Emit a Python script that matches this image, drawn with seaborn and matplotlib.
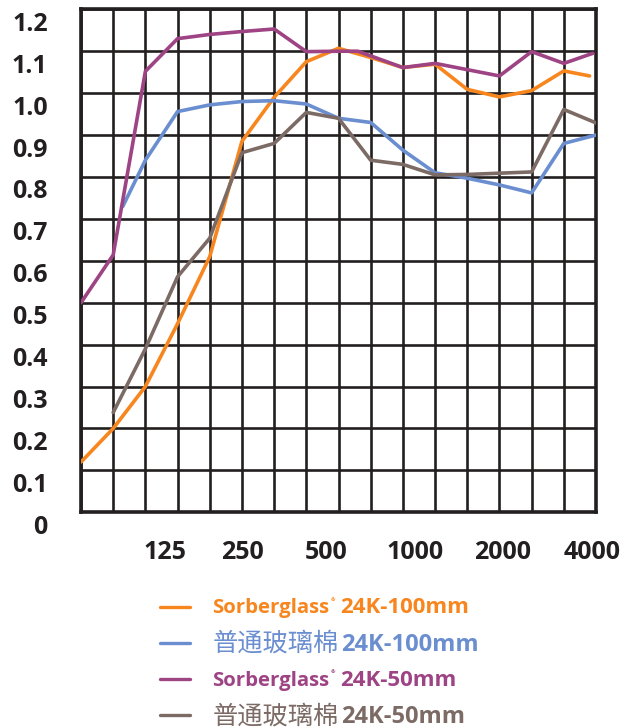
import pandas as pd
import numpy as np
import matplotlib.pyplot as plt
import seaborn as sns
from matplotlib.lines import Line2D
from matplotlib.transforms import ScaledTranslation

# 1/3-octave band index (grid columns) and sound absorption coefficients
orange_x = [0, 1, 2, 3, 4, 5, 6, 7, 8, 9, 10, 11, 12, 13, 14, 15, 15.8]
orange_y = [0.12, 0.20, 0.30, 0.45, 0.61, 0.885, 0.99, 1.075, 1.107, 1.085,
            1.061, 1.069, 1.009, 0.991, 1.006, 1.053, 1.041]

blue_x = [1.3, 2, 3, 4, 5, 6, 7, 8, 9, 10, 11, 12, 13, 14, 15, 16]
blue_y = [0.73, 0.84, 0.956, 0.972, 0.980, 0.982, 0.974, 0.940, 0.930, 0.864,
          0.810, 0.797, 0.781, 0.762, 0.880, 0.900]

purple_x = [0, 1, 2, 3, 4, 5, 6, 7, 8, 8.6, 10, 11, 13, 14, 15, 15.9]
purple_y = [0.50, 0.614, 1.052, 1.13, 1.14, 1.147, 1.153, 1.099, 1.10, 1.10,
            1.061, 1.071, 1.041, 1.099, 1.071, 1.095]

brown_x = [1, 2, 3, 4, 5, 6, 7, 8, 9, 10, 11, 12, 13, 14, 15, 16]
brown_y = [0.238, 0.39, 0.562, 0.654, 0.858, 0.880, 0.954, 0.940, 0.840, 0.830,
           0.805, 0.806, 0.809, 0.812, 0.961, 0.929]

series = ['Sorberglass 24K-100mm', '普通玻璃棉24K-100mm',
          'Sorberglass 24K-50mm', '普通玻璃棉24K-50mm']
colors = ['#F7861F', '#6A8ECF', '#9E4384', '#7C6A65']

x_labels = ['125', '250', '500', '1000', '2000', '4000']
x_label_pos = [2.6, 5.03, 7.6, 10.37, 13.11, 15.87]
y_ticks = [0, 0.1, 0.2, 0.3, 0.4, 0.5, 0.6, 0.7, 0.8, 0.9, 1.0, 1.1, 1.2]
y_labels = ['0', '0.1', '0.2', '0.3', '0.4', '0.5', '0.6', '0.7', '0.8', '0.9',
            '1.0', '1.1', '1.2']

# legend text split: first part, second part, latin first part?
legend_parts = [('Sorberglass', '24K-100mm', True),
                ('普通玻璃棉', '24K-100mm', False),
                ('Sorberglass', '24K-50mm', True),
                ('普通玻璃棉', '24K-50mm', False)]

df = pd.concat([
    pd.DataFrame({'band': orange_x, 'alpha': orange_y, 'series': series[0]}),
    pd.DataFrame({'band': blue_x, 'alpha': blue_y, 'series': series[1]}),
    pd.DataFrame({'band': purple_x, 'alpha': purple_y, 'series': series[2]}),
    pd.DataFrame({'band': brown_x, 'alpha': brown_y, 'series': series[3]}),
])

sns.set_style('white')
plt.rcParams['font.family'] = ['Open Sans', 'Noto Sans CJK SC', 'DejaVu Sans']

W, H = 627, 728
fig = plt.figure(figsize=(W / 100, H / 100), dpi=100)
ax = fig.add_axes([81 / W, 1 - 512.3 / H, (596 - 81) / W, (512.3 - 9.3) / H])

sns.lineplot(data=df, x='band', y='alpha', hue='series', hue_order=series,
             palette=colors, sort=False, estimator=None, legend=False,
             linewidth=2.6, ax=ax, zorder=3)

ink = '#231F20'
ax.set_xlim(0, 16)
ax.set_ylim(0, 1.2)
ax.set_xticks(np.arange(17), minor=True)
ax.set_xticks(x_label_pos)
ax.set_xticklabels(x_labels)
ax.set_yticks(y_ticks)
ax.set_yticklabels(y_labels)
ax.grid(False)
ax.grid(True, which='minor', axis='x', color=ink, linewidth=1.9)
ax.grid(True, which='major', axis='y', color=ink, linewidth=1.9)
ax.set_axisbelow(True)
for s in ax.spines.values():
    s.set_color(ink)
    s.set_linewidth(2.6)
    s.set_visible(True)
ax.tick_params(which='both', length=0)
ax.tick_params(axis='y', pad=24)
ax.tick_params(axis='x', pad=20)
ax.set_xlabel('')
ax.set_ylabel('')
for lab in ax.get_yticklabels():
    lab.set_fontsize(18)
    lab.set_fontweight('bold')
    lab.set_color(ink)
    lab.set_transform(lab.get_transform() + ScaledTranslation(0, -0.12, fig.dpi_scale_trans))
for lab in ax.get_xticklabels():
    lab.set_fontsize(18)
    lab.set_fontweight('bold')
    lab.set_color(ink)

# legend, drawn by hand so each label can mix weights
handle_y = [606.7, 643.3, 679.3, 715]
base_y = [613.3, 651, 686, 723.3]
for (p1, p2, is_latin), c, hy, by in zip(legend_parts, colors, handle_y, base_y):
    fig.add_artist(Line2D([160 / W, 190 / W], [1 - hy / H] * 2, color=c, linewidth=2.4))
    yf = 1 - by / H
    if is_latin:
        t1 = fig.text(212 / W, yf, p1, color=c, fontsize=14.7, fontweight='bold',
                      family='Open Sans', va='baseline')
        reg = ax.annotate('®', xy=(1, yf), xycoords=(t1, 'figure fraction'),
                          xytext=(1.5, 9), textcoords='offset points',
                          color=c, fontsize=4, fontweight='bold', va='baseline')
        ax.annotate(p2, xy=(1, yf), xycoords=(reg, 'figure fraction'),
                    xytext=(3, 0), textcoords='offset points',
                    color=c, fontsize=16, fontweight='bold',
                    family='Open Sans', va='baseline')
    else:
        t1 = fig.text(213 / W, yf, p1, color=c, fontsize=18.2,
                      family='Noto Sans CJK SC', va='baseline')
        ax.annotate(p2, xy=(1, yf), xycoords=(t1, 'figure fraction'),
                    xytext=(1, 0), textcoords='offset points',
                    color=c, fontsize=17, fontweight='bold',
                    family='Open Sans', va='baseline')

fig.savefig('out.png', dpi=100)
